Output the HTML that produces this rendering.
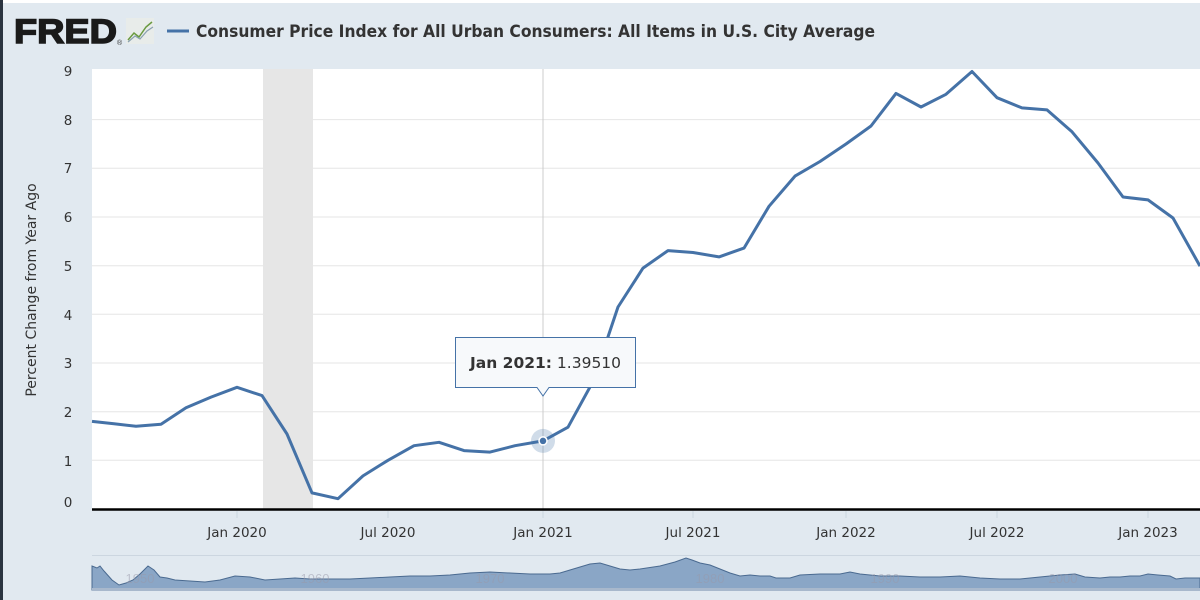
<!DOCTYPE html>
<html><head><meta charset="utf-8"><style>
body{margin:0;width:1200px;height:600px;overflow:hidden;background:#e1e9f0;font-family:"Liberation Sans",sans-serif}
</style></head><body>
<svg width="1200" height="600" xmlns="http://www.w3.org/2000/svg" style="position:absolute;left:0;top:0">
<rect x="0" y="0" width="1200" height="600" fill="#e1e9f0"/>
<rect x="0" y="0" width="1200" height="3" fill="#fff"/>
<rect x="0" y="0" width="3" height="600" fill="#2a3440"/>
<text x="14" y="43" font-size="34" font-weight="bold" fill="#1a1a1a" stroke="#1a1a1a" stroke-width="1.5" font-family="Liberation Sans" textLength="103" lengthAdjust="spacingAndGlyphs">FRED</text>
<text x="117" y="45" font-size="7" fill="#333">®</text>
<rect x="126" y="18" width="28" height="26" fill="#e8ecea"/>
<polyline points="128,40 134,33 139,37 146,27 152,22" fill="none" stroke="#6a9a40" stroke-width="1.5"/>
<polyline points="128,42 135,36 140,39 147,31 153,27" fill="none" stroke="#8aa0b0" stroke-width="1.2"/>
<line x1="167" y1="31" x2="189" y2="31" stroke="#4572a7" stroke-width="3"/>
<text x="196" y="37" font-size="17" font-weight="bold" fill="#333" font-family="DejaVu Sans" textLength="679" lengthAdjust="spacingAndGlyphs">Consumer Price Index for All Urban Consumers: All Items in U.S. City Average</text>
<rect x="92" y="69" width="1108" height="440" fill="#fff"/>
<rect x="263" y="69" width="50" height="440" fill="#e6e6e6"/>
<g stroke="#e6e6e6" stroke-width="1">
<line x1="92" y1="460.3" x2="1200" y2="460.3"/><line x1="92" y1="411.7" x2="1200" y2="411.7"/>
<line x1="92" y1="363" x2="1200" y2="363"/><line x1="92" y1="314.3" x2="1200" y2="314.3"/>
<line x1="92" y1="265.7" x2="1200" y2="265.7"/><line x1="92" y1="217" x2="1200" y2="217"/>
<line x1="92" y1="168.3" x2="1200" y2="168.3"/><line x1="92" y1="119.6" x2="1200" y2="119.6"/>
</g>
<line x1="543" y1="69" x2="543" y2="509" stroke="#ccc" stroke-width="1"/>
<line x1="92" y1="509.5" x2="1200" y2="509.5" stroke="#000" stroke-width="2.5"/>
<g stroke="#ccd6e0"><line x1="237" y1="511" x2="237" y2="518"/><line x1="388" y1="511" x2="388" y2="518"/><line x1="543" y1="511" x2="543" y2="518"/><line x1="693" y1="511" x2="693" y2="518"/><line x1="846" y1="511" x2="846" y2="518"/><line x1="997" y1="511" x2="997" y2="518"/><line x1="1148" y1="511" x2="1148" y2="518"/></g>
<g font-size="13.5" fill="#333" text-anchor="middle" font-family="DejaVu Sans">
<text x="237" y="537">Jan 2020</text><text x="388" y="537">Jul 2020</text><text x="543" y="537">Jan 2021</text><text x="693" y="537">Jul 2021</text><text x="846" y="537">Jan 2022</text><text x="997" y="537">Jul 2022</text><text x="1148" y="537">Jan 2023</text>
</g>
<g font-size="13.5" fill="#333" text-anchor="middle" font-family="DejaVu Sans">
<text x="68" y="507">0</text><text x="68" y="466">1</text><text x="68" y="417">2</text><text x="68" y="368">3</text><text x="68" y="320">4</text><text x="68" y="271">5</text><text x="68" y="222">6</text><text x="68" y="173">7</text><text x="68" y="125">8</text><text x="68" y="76">9</text>
</g>
<text transform="translate(36,290) rotate(-90)" font-size="14" fill="#333" text-anchor="middle" font-family="DejaVu Sans">Percent Change from Year Ago</text>
<polyline fill="none" stroke="#4572a7" stroke-width="3" stroke-linejoin="round" points="92,421.4 114,423.8 136,426.3 161,424.3 186,407.8 211,397.1 237,387.3 262,395.6 287,434 312,492.9 338,498.7 363,475.9 388,460.3 414,445.7 439,442.3 464,450.6 490,452.1 515,445.7 543,440.9 568,427.2 593,381.5 618,307 643,268.1 668,250.6 693,252.5 719,256.9 744,248.1 769,206.3 795,176.1 820,161.5 846,144 871,126 896,93.4 921,107 946,94.3 972,71.5 997,97.7 1022,107.9 1047,109.9 1072,131.8 1098,163 1123,197 1148,199.9 1173,218 1200,266.1"/>
<circle cx="543" cy="440.9" r="12" fill="#4572a7" opacity="0.25"/>
<circle cx="543" cy="440.9" r="4" fill="#4572a7" stroke="#fff" stroke-width="1.5"/>
<path d="M455.5,337.5 H635.5 V387.5 H549 L543,396 L537,387.5 H455.5 Z" fill="#f7f9fb" stroke="#4572a7" stroke-width="1"/>
<text x="470" y="368" font-size="15.5" fill="#333" font-family="DejaVu Sans"><tspan font-weight="bold">Jan 2021:</tspan> 1.39510</text>
<line x1="92" y1="555.5" x2="1200" y2="555.5" stroke="#ccd6e0"/>
<path fill="#8aa6c6" stroke="#4a6a90" stroke-width="1" d="M92,590 L92,566 L97,568 L100,566 L104,571 L112,580 L119,585 L126,583 L133,580 L140,574 L148,566 L154,570 L160,577 L167,578 L175,580 L190,581 L205,582 L220,580 L235,576 L250,577 L265,580 L280,579 L295,578 L310,579 L330,579 L350,579 L370,578 L390,577 L410,576 L430,576 L450,575 L470,573 L490,572 L510,573 L530,574 L550,574 L560,573 L570,570 L580,567 L590,564 L600,563 L610,566 L620,569 L630,570 L640,569 L660,566 L675,562 L686,558 L692,560 L700,563 L710,565 L720,569 L730,573 L740,576 L750,575 L760,576 L770,576 L776,578 L790,578 L800,575 L820,574 L840,574 L850,572 L860,574 L880,576 L900,576 L920,577 L940,577 L960,576 L980,578 L1000,579 L1020,579 L1040,577 L1060,575 L1075,574 L1085,577 L1100,578 L1110,577 L1120,577 L1130,576 L1140,576 L1148,574 L1158,575 L1170,576 L1176,579 L1185,578 L1200,578 L1200,590 Z"/>
<rect x="92" y="588" width="1108" height="3" fill="#a8b8cc"/>
<g font-size="13" fill="#99a" opacity="0.5" text-anchor="middle"><text x="140" y="583">1950</text><text x="315" y="583">1960</text><text x="490" y="583">1970</text><text x="710" y="583">1980</text><text x="885" y="583">1990</text><text x="1063" y="583">2000</text></g>
</svg>
</body></html>
